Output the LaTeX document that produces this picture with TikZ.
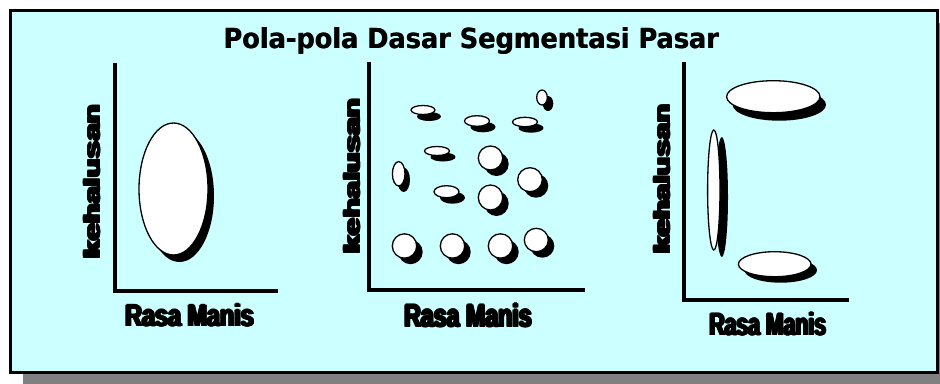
\documentclass[tikz,border=0pt]{standalone}
\usepackage{fontspec}
\usepackage{graphicx}
\newfontfamily\titlefont{DejaVu Sans}
\newfontfamily\heavyfont{Liberation Sans}
\definecolor{panelbg}{HTML}{CCFFFF}
\definecolor{shadowgray}{HTML}{808080}
% overprinted (heavier) text
\newcommand\heavytext[1]{\leavevmode
  \rlap{#1}\rlap{\kern0.35pt#1}\rlap{\kern0.7pt#1}\rlap{\kern1.05pt#1}%
  \rlap{\raisebox{0.2pt}{#1}}\rlap{\raisebox{0.2pt}{\kern0.35pt#1}}%
  \rlap{\raisebox{0.2pt}{\kern0.7pt#1}}\rlap{\raisebox{0.2pt}{\kern1.05pt#1}}%
  \rlap{\raisebox{0.4pt}{\kern0.5pt#1}}%
  \kern1.05pt\phantom{#1}}
\newcommand\semiheavy[1]{\leavevmode
  \rlap{#1}\rlap{\kern0.25pt#1}\kern0.25pt\phantom{#1}}
% x, y, rx, ry, dx, dy
\newcommand\segblob[6]{%
  \fill[black] ({#1+#5},{#2+#6}) ellipse [x radius=#3, y radius=#4];
  \draw[blobline] (#1,#2) ellipse [x radius=#3, y radius=#4];}
\begin{document}
\begin{tikzpicture}[x=1pt,y=-1pt,
  axis/.style={line width=3.5pt, line join=miter},
  blobline/.style={draw=black, fill=white, line width=1.3pt},
  lbl/.style={inner sep=0pt, outer sep=0pt, anchor=base west}]
\useasboundingbox (0,0) rectangle (940,383);
\clip (0,0) rectangle (940,383);
% frame with shadow
\fill[shadowgray] (23,23) rectangle (960,400);
\draw[fill=panelbg, line width=3pt] (10,10) rectangle (937.5,372);
% title
\node[lbl] (title) at (223.3,48.3) {\resizebox{496pt}{21pt}{\titlefont\bfseries\semiheavy{Pola-pola Dasar Segmentasi Pasar}}};
% ---------- panel 1
\coordinate (p1top) at (115,63);
\coordinate (p1org) at (115,291);
\coordinate (p1end) at (278,291);
\draw[axis] (p1top) -- (p1org) -- (p1end);
\node[lbl, rotate=90] (p1y) at (100,260) {\resizebox{157pt}{17pt}{\heavyfont\bfseries\heavytext{kehalusan}}};
\node[lbl] (p1x) at (124,326.7) {\resizebox{131pt}{23.5pt}{\heavyfont\bfseries\heavytext{Rasa Manis}}};
\segblob{173.5}{189}{34.5}{66}{6}{7}
% ---------- panel 2
\coordinate (p2top) at (369,62);
\coordinate (p2org) at (369,290);
\coordinate (p2end) at (585,290);
\draw[axis] (p2top) -- (p2org) -- (p2end);
\node[lbl, rotate=90] (p2y) at (360,255) {\resizebox{158pt}{17pt}{\heavyfont\bfseries\heavytext{kehalusan}}};
\node[lbl] (p2x) at (403,327) {\resizebox{130pt}{24pt}{\heavyfont\bfseries\heavytext{Rasa Manis}}};
\segblob{423}{110}{12}{4.5}{6}{6.5}
\segblob{542}{97.5}{5.3}{7.5}{6}{6}
\segblob{477}{121}{12.5}{5.3}{6}{6}
\segblob{525}{122}{12.5}{4.7}{6}{6}
\segblob{437}{151}{12.5}{4.5}{6}{6}
\segblob{490.5}{158}{12.2}{12}{6}{6}
\segblob{398.7}{173.8}{6.3}{12.2}{5}{6}
\segblob{530}{179.7}{12.3}{12}{6}{6}
\segblob{446.5}{191.7}{12.5}{6}{6}{6}
\segblob{490.5}{197.5}{12.2}{12.5}{6}{6}
\segblob{404.5}{246}{12.2}{12.2}{6}{6}
\segblob{452.5}{246}{12.2}{12.2}{6}{6}
\segblob{500.5}{246}{12.2}{12.2}{6}{6}
\segblob{536.3}{240}{12}{11.7}{6}{6}
% ---------- panel 3
\coordinate (p3top) at (684,62);
\coordinate (p3org) at (684,300);
\coordinate (p3end) at (849,300);
\draw[axis] (p3top) -- (p3org) -- (p3end);
\node[lbl, rotate=90] (p3y) at (670,255) {\resizebox{152pt}{17pt}{\heavyfont\bfseries\heavytext{kehalusan}}};
\node[lbl] (p3x) at (708.3,335.7) {\resizebox{119pt}{24pt}{\heavyfont\bfseries\heavytext{Rasa Manis}}};
\segblob{773.3}{96.7}{46.7}{16}{6}{8}
\segblob{713.8}{190}{6.2}{60}{8}{7}
\segblob{774.7}{264.2}{36.3}{12.5}{6}{6}
\end{tikzpicture}
\end{document}
